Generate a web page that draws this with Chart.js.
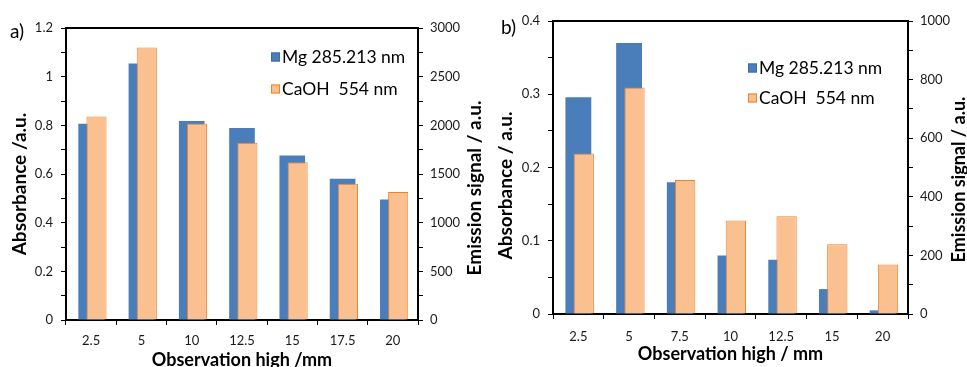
<!DOCTYPE html>
<html>
<head>
<meta charset="utf-8">
<script src="https://cdn.jsdelivr.net/npm/chart.js@4.4.1/dist/chart.umd.min.js"></script>
<style>
  html, body { margin: 0; padding: 0; background: #fff; }
  #wrap { position: relative; width: 967px; height: 367px; overflow: hidden; }
  #box-a { position: absolute; left: 0; top: 0; }
  #box-b { position: absolute; left: 490px; top: 0; }
</style>
</head>
<body>
<div id="wrap">
  <div id="box-a"><canvas id="chart-a" width="490" height="367"></canvas></div>
  <div id="box-b"><canvas id="chart-b" width="477" height="367"></canvas></div>
</div>
<script>
// panel a
const heights_a = ['2.5', '5', '10', '12.5', '15', '17.5', '20'];
const mg_a = [0.807, 1.054, 0.818, 0.789, 0.676, 0.58, 0.495];
const caoh_a = [2090, 2800, 2020, 1820, 1620, 1400, 1315];

// panel b
const heights_b = ['2.5', '5', '7.5', '10', '12.5', '15', '20'];
const mg_b = [0.296, 0.370, 0.180, 0.080, 0.074, 0.034, 0.005];
const caoh_b = [548, 773, 457, 319, 334, 238, 169];

const mg_label = 'Mg 285.213 nm';
const caoh_label = 'CaOH  554 nm';

const BLUE = '#4a7ebb';
const ORANGE_FILL = '#fac090';
const ORANGE_LINE = '#f0802a';

Chart.defaults.font.family = 'Lato';
Chart.defaults.color = '#1a1a1a';

// axis titles (reading upwards on both sides), panel letter and the inner legend
const sideText = {
  id: 'sideText',
  afterDraw(chart, args, opts) {
    const ctx = chart.ctx;
    const area = chart.chartArea;
    const midY = (area.top + area.bottom) / 2;
    ctx.save();
    ctx.fillStyle = '#000';
    ctx.textBaseline = 'middle';
    ctx.textAlign = 'center';
    for (const t of opts.titles) {
      ctx.save();
      ctx.translate(t.x, midY + t.dy);
      ctx.rotate(-Math.PI / 2);
      ctx.font = 'bold ' + t.size + 'px Lato';
      ctx.fillText(t.text, 0, 0);
      ctx.restore();
    }
    ctx.textAlign = 'left';
    ctx.font = opts.panel.size + 'px Lato';
    ctx.fillText(opts.panel.text, opts.panel.x, opts.panel.y);

    const lg = opts.legend;
    ctx.font = lg.size + 'px Lato';
    chart.data.datasets.slice(0, 2).forEach((ds, i) => {
      const x = area.left + lg.dx;
      const y = area.top + lg.dy + i * lg.gap;
      ctx.fillStyle = ds.backgroundColor;
      ctx.fillRect(x, y - 4.5, 9, 9);
      ctx.strokeStyle = ds.borderColor;
      ctx.lineWidth = 1;
      ctx.strokeRect(x + 0.5, y - 4, 8, 8);
      ctx.fillStyle = '#000';
      ctx.fillText(ds.label, x + 11, y);
    });
    ctx.restore();
  }
};

function tenth(v) {
  return Math.abs(v * 10 - Math.round(v * 10)) < 1e-6;
}

function makeChart(canvas, cfg) {
  const tickGrid = { display: true, drawOnChartArea: false, drawTicks: true, tickLength: 5, color: '#000', lineWidth: 1 };
  const axisBorder = { display: true, color: '#000', width: 2 };
  return new Chart(canvas, {
    type: 'bar',
    data: {
      labels: cfg.labels,
      datasets: [
        {
          label: mg_label,
          data: cfg.mg,
          backgroundColor: BLUE,
          borderColor: '#3b6ca8',
          borderWidth: 0,
          grouped: false,
          categoryPercentage: 1,
          barPercentage: 0.51,
          order: 2,
          yAxisID: 'y'
        },
        {
          label: caoh_label,
          data: cfg.caoh,
          backgroundColor: ORANGE_FILL,
          borderColor: ORANGE_LINE,
          borderWidth: 1,
          grouped: true,
          stack: 'caoh',
          categoryPercentage: 0.424,
          barPercentage: 1.89,
          order: 1,
          yAxisID: 'y2'
        },
        {
          // empty slot so the orange bars sit a little right of centre
          label: '',
          data: [],
          grouped: true,
          stack: 'gap',
          order: 0,
          yAxisID: 'y'
        }
      ]
    },
    options: {
      responsive: false,
      animation: false,
      layout: { padding: { top: cfg.top, left: 0, right: 0, bottom: 0 } },
      scales: {
        x: {
          grid: tickGrid,
          border: axisBorder,
          ticks: { padding: cfg.xPad, font: { size: 13 }, maxRotation: 0 },
          title: {
            display: true,
            text: cfg.xTitle,
            color: '#000',
            font: { size: 18, weight: 'bold' },
            padding: { top: 0, bottom: cfg.xTitlePad }
          },
          afterFit(s) { s.height = cfg.xHeight; }
        },
        top: {
          type: 'linear',
          position: 'top',
          ticks: { display: false },
          grid: { display: false },
          border: axisBorder,
          afterFit(s) { s.height = 0; }
        },
        y: {
          position: 'left',
          min: 0,
          max: cfg.yMax,
          grid: tickGrid,
          border: axisBorder,
          ticks: {
            stepSize: cfg.yStep,
            autoSkip: false,
            padding: 8,
            font: { size: 13 },
            callback: v => tenth(v) && (cfg.yEvery === 0.1 || tenth(v / 2)) ? String(Math.round(v * 10) / 10) : ''
          },
          afterFit(s) { s.width = cfg.yWidth; }
        },
        y2: {
          position: 'right',
          min: 0,
          max: cfg.y2Max,
          grid: tickGrid,
          border: axisBorder,
          ticks: {
            stepSize: cfg.y2Step,
            autoSkip: false,
            padding: 7,
            font: { size: 13 },
            callback: v => v % cfg.y2Every === 0 ? String(v) : ''
          },
          afterFit(s) { s.width = cfg.y2Width; }
        }
      },
      plugins: {
        legend: { display: false },
        tooltip: { enabled: false },
        sideText: {
          titles: cfg.titles,
          panel: cfg.panel,
          legend: cfg.legend
        }
      }
    },
    plugins: [sideText]
  });
}

makeChart(document.getElementById('chart-a'), {
  labels: heights_a,
  mg: mg_a,
  caoh: caoh_a,
  top: 28,
  xHeight: 47,
  xPad: 8,
  xTitle: 'Observation high /mm',
  xTitlePad: -4,
  yMax: 1.2,
  yStep: 0.1,
  yEvery: 0.2,
  y2Max: 3000,
  y2Step: 250,
  y2Every: 500,
  yWidth: 66,
  y2Width: 72,
  titles: [
    { text: 'Absorbance /a.u.', x: 20, dy: 10, size: 19 },
    { text: 'Emission signal / a.u.', x: 475, dy: 14, size: 19 }
  ],
  panel: { text: 'a)', x: 10, y: 32, size: 19 },
  legend: { dx: 205, dy: 29, gap: 32, size: 17.5 }
});

makeChart(document.getElementById('chart-b'), {
  labels: heights_b,
  mg: mg_b,
  caoh: caoh_b,
  top: 21,
  xHeight: 53,
  xPad: 10,
  xTitle: 'Observation high / mm',
  xTitlePad: 2,
  yMax: 0.4,
  yStep: 0.05,
  yEvery: 0.1,
  y2Max: 1000,
  y2Step: 100,
  y2Every: 200,
  yWidth: 63,
  y2Width: 59,
  titles: [
    { text: 'Absorbance / a.u.', x: 16, dy: 18, size: 19 },
    { text: 'Emission signal / a.u.', x: 469, dy: 12, size: 18 }
  ],
  panel: { text: 'b)', x: 11, y: 28, size: 19 },
  legend: { dx: 195, dy: 47, gap: 30, size: 17.5 }
});
</script>
</body>
</html>
